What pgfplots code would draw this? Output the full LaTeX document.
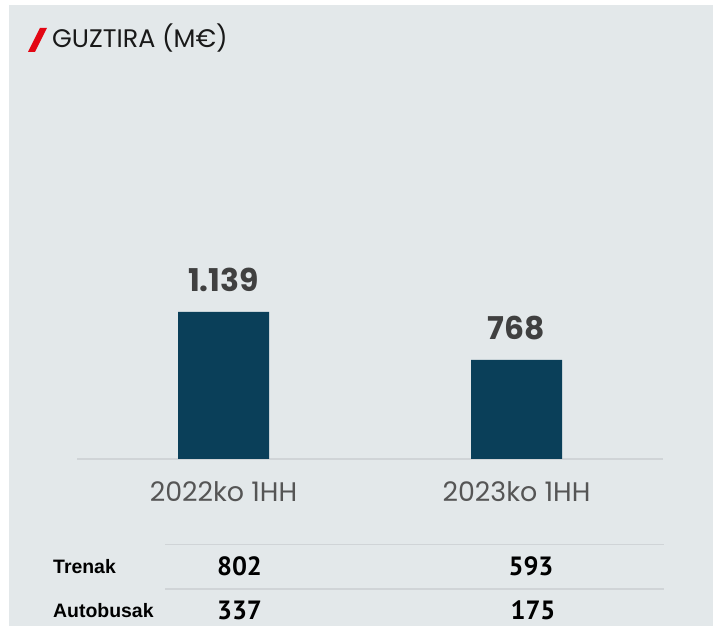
\documentclass[border=0pt]{standalone}
\usepackage{pgfplots}
\pgfplotsset{compat=1.18}
\usepackage{fontspec}
\setmainfont{Poppins}
\newfontfamily\tabfont{PT Sans}
\newfontfamily\labfont{Liberation Sans}
\definecolor{bg}{HTML}{E3E8EA}
\definecolor{barc}{HTML}{0A3F59}
\definecolor{linec}{HTML}{D0D4D7}
\definecolor{valc}{HTML}{404040}
\definecolor{catc}{HTML}{555555}
\definecolor{redc}{HTML}{E30613}
\begin{document}
\begin{tikzpicture}
\path[use as bounding box, fill=white] (0bp,0bp) rectangle (713bp,626bp);
\fill[bg] (9bp,0bp) rectangle (713bp,621bp);
% title
\fill[redc] (28bp,574bp) -- (35bp,574bp) -- (47bp,598bp) -- (40bp,598bp) -- cycle;
\node[anchor=base west, inner sep=0pt, text=black!90] at (52bp,578bp) {\fontsize{25.5}{28}\selectfont GUZTIRA (M€)};
\begin{axis}[
  at={(77bp,167bp)}, anchor=south west,
  scale only axis, width=586bp, height=361.4bp,
  xmin=-0.5, xmax=1.5, ymin=0, ymax=2800,
  axis y line=none,
  axis x line*=bottom,
  x axis line style={draw=linec, line width=1.5bp, -},
  xtick={0,1}, xticklabels={2022ko 1HH, 2023ko 1HH},
  major tick length=0pt,
  xticklabel style={anchor=base, yshift=-43bp, text=catc, font=\fontsize{27}{30}\selectfont},
  ybar, bar width=91bp,
  clip=false,
  /pgf/number format/assume math mode=true,
  /pgf/number format/1000 sep={.},
  nodes near coords,
  every node near coord/.append style={anchor=base, yshift=20bp, text=valc, font=\bfseries\fontsize{31.5}{32}\selectfont},
]
\addplot[fill=barc, draw=none] coordinates {(0,1139) (1,768)};
\end{axis}
% table
\draw[linec, line width=1.5bp] (165bp,81.3bp) -- (664bp,81.3bp);
\draw[linec, line width=1.5bp] (165bp,37bp) -- (664bp,37bp);
\node[anchor=base west, inner sep=0pt] at (53bp,52bp) {\labfont\bfseries\fontsize{19.5}{20}\selectfont Trenak};
\node[anchor=base west, inner sep=0pt] at (53bp,9bp) {\labfont\bfseries\fontsize{19.5}{20}\selectfont Autobusak};
\node[anchor=base, inner sep=0pt] at (239.5bp,50bp) {\tabfont\bfseries\fontsize{26.5}{28}\selectfont 802};
\node[anchor=base, inner sep=0pt] at (531bp,50bp) {\tabfont\bfseries\fontsize{26.5}{28}\selectfont 593};
\node[anchor=base, inner sep=0pt] at (239.5bp,7bp) {\tabfont\bfseries\fontsize{26.5}{28}\selectfont 337};
\node[anchor=base, inner sep=0pt] at (533bp,7bp) {\tabfont\bfseries\fontsize{26.5}{28}\selectfont 175};
\end{tikzpicture}
\end{document}
